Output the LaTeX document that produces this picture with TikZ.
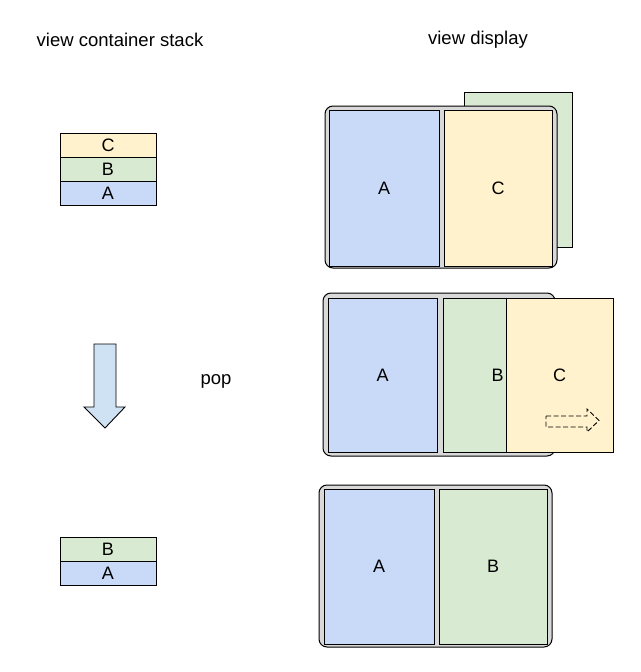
\documentclass[tikz,border=0pt]{standalone}
\usepackage{fontspec}
\setmainfont{Liberation Sans}
\definecolor{paneblue}{HTML}{C9DAF8}
\definecolor{panegreen}{HTML}{D9EAD3}
\definecolor{paneyellow}{HTML}{FFF2CC}
\definecolor{framegray}{HTML}{D9D9D9}
\definecolor{arrowblue}{HTML}{CFE2F3}
\begin{document}
\begin{tikzpicture}[x=1pt,y=-1pt,
  pane/.style={draw=black, line width=0.9pt, inner sep=0pt, outer sep=0pt,
    font=\fontsize{18}{21}\selectfont},
  stackrow/.style={pane, minimum width=96pt, minimum height=24pt},
  frame/.style={draw=black, line width=1pt, fill=framegray, rounded corners=8pt},
  title/.style={font=\fontsize{18.5}{22}\selectfont, inner sep=0pt}]
\useasboundingbox (0,0) rectangle (640,672);
\fill[white] (0,0) rectangle (640,672);

% titles
\node[title] (t1) at (120,40) {view container stack};
\node[title] (t2) at (478,40) {view display};
\node[title] (pop) at (216,381) {pop};

% stack before
\node[stackrow, fill=paneyellow] (sC) at (108,145) {C};
\node[stackrow, fill=panegreen] (sB) at (108,169) {B};
\node[stackrow, fill=paneblue] (sA) at (108,193) {A};

% stack after
\node[stackrow, fill=panegreen] (sB2) at (108,549) {B};
\node[stackrow, fill=paneblue] (sA2) at (108,573) {A};

% pop arrow
\draw[line width=0.9pt, fill=arrowblue]
  (94,344) -- (116,344) -- (116,407) -- (125,407) -- (105,428) -- (84,407) -- (94,407) -- cycle;

% top display
\draw[line width=0.9pt, fill=panegreen] (464,92) rectangle (572,247);
\draw[frame] (325,106) rectangle (557,268);
\node[pane, fill=paneblue, minimum width=110pt, minimum height=156pt] (dA1) at (384,188) {A};
\node[pane, fill=paneyellow, minimum width=108pt, minimum height=156pt] (dC1) at (498,188) {C};

% middle display
\draw[frame] (323,293) rectangle (555,456);
\node[pane, fill=paneblue, minimum width=109pt, minimum height=154pt] (dA2) at (382.5,375) {A};
\node[pane, fill=panegreen, minimum width=109pt, minimum height=154pt] (dB2) at (497.5,375) {B};
\node[pane, fill=paneyellow, minimum width=107pt, minimum height=154pt] (dC2) at (559.5,375) {C};
\draw[line width=0.9pt, dash pattern=on 5pt off 2.5pt]
  (546,416) -- (587,416) -- (587,409) -- (599,420.5) -- (587,432) -- (587,427) -- (546,427) -- cycle;

% bottom display
\draw[frame] (319,485) rectangle (552,647);
\node[pane, fill=paneblue, minimum width=110pt, minimum height=155pt] (dA3) at (379,566.5) {A};
\node[pane, fill=panegreen, minimum width=108pt, minimum height=155pt] (dB3) at (493,566.5) {B};
\end{tikzpicture}
\end{document}
